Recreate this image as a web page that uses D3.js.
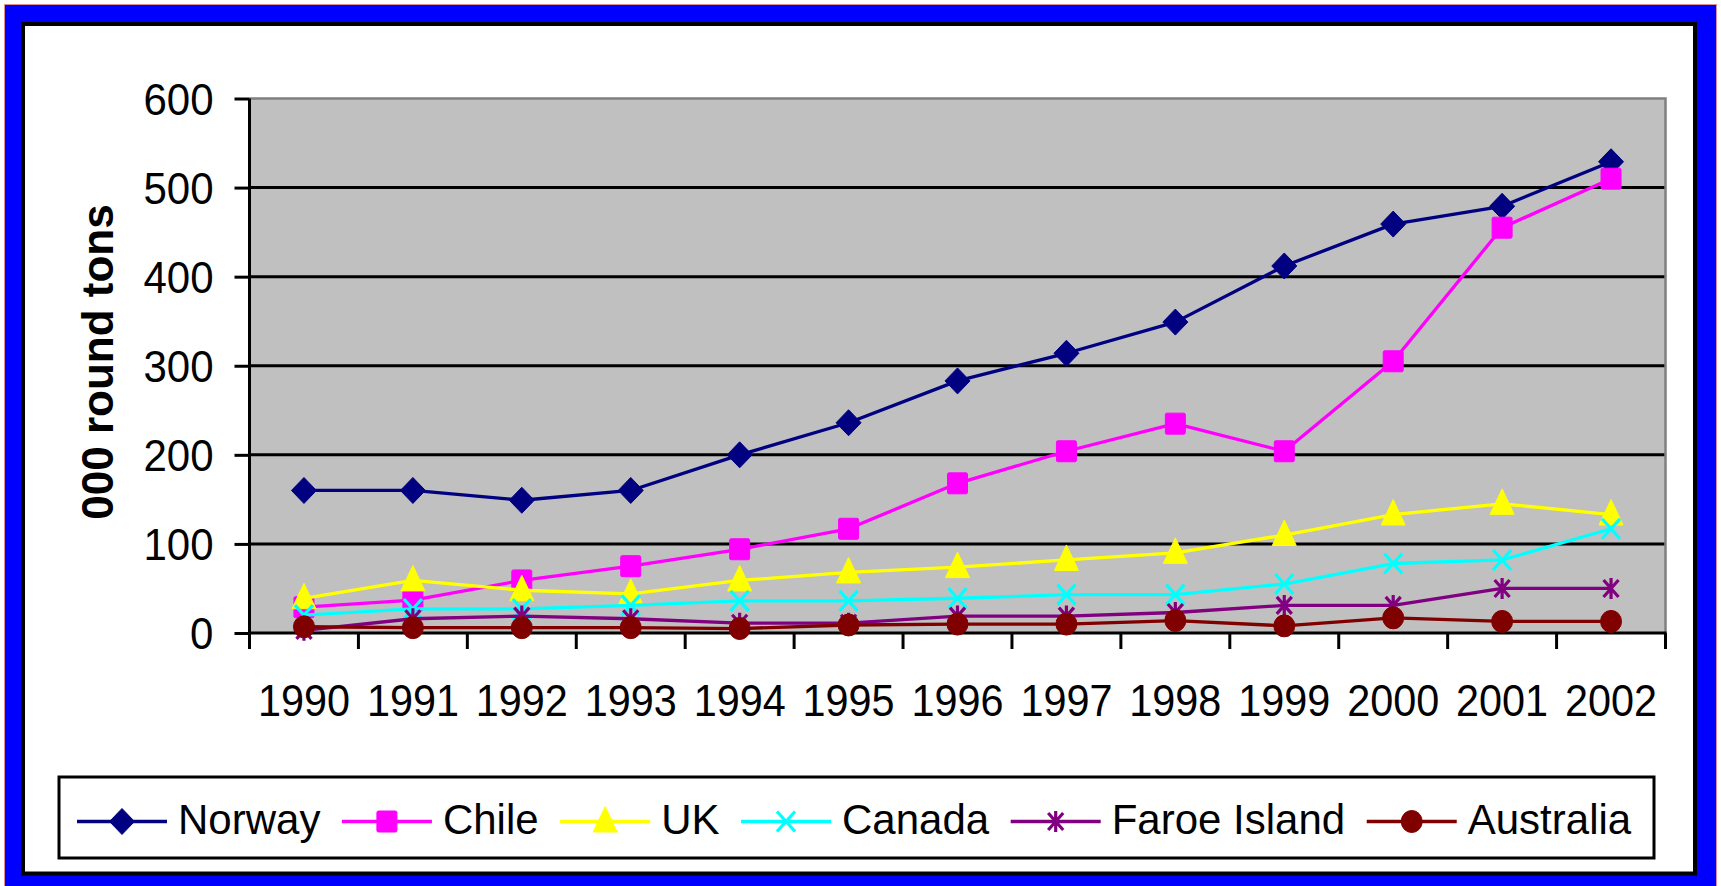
<!DOCTYPE html>
<html>
<head>
<meta charset="utf-8">
<script src="https://cdn.jsdelivr.net/npm/d3@7"></script>
<style>
  html, body { margin: 0; padding: 0; background: #ffffff; }
  svg { display: block; }
  text { font-family: "Liberation Sans", Arial, sans-serif; fill: #000; }
</style>
</head>
<body>
<svg id="chart" width="1721" height="886"></svg>
<script>
// ---- data ----
const years = ["1990","1991","1992","1993","1994","1995","1996","1997","1998","1999","2000","2001","2002"];
const yTicks = [0, 100, 200, 300, 400, 500, 600];
const seriesNames = ["Norway", "Chile", "UK", "Canada", "Faroe Island", "Australia"];
const norway    = [160, 160, 149, 160, 200, 236, 283, 314, 349, 412, 459, 479, 529];
const chile     = [29, 37, 59, 75, 94, 117, 168, 204, 235, 204, 305, 455, 510];
const uk        = [39, 59, 48, 44, 59, 68, 74, 82, 90, 110, 133, 145, 133];
const canada    = [20, 27, 27, 31, 36, 36, 39, 43, 43, 55, 78, 82, 117];
const faroe     = [3, 16, 19, 16, 11, 11, 19, 19, 23, 31, 31, 50, 50];
const australia = [7, 6, 6, 6, 5, 9, 10, 10, 14, 8, 17, 13, 13];
const yTitle = "000 round tons";

const seriesValues = [norway, chile, uk, canada, faroe, australia];
const colors = ["#000080", "#FF00FF", "#FFFF00", "#00FFFF", "#800080", "#800000"];
const markers = ["diamond", "square", "triangle", "x", "star", "circle"];

(function () {
const svg = d3.select("#chart");
const FONT = '"Liberation Sans", Arial, sans-serif';
function narrow(sel, k) {
  sel.each(function () {
    const w = this.getComputedTextLength();
    d3.select(this).attr("textLength", w * k).attr("lengthAdjust", "spacingAndGlyphs");
  });
}

// ---- frame ----
svg.append("rect").attr("x", 4.5).attr("y", 4.5).attr("width", 1712).attr("height", 900)
  .attr("fill", "#0000FF").attr("stroke", "#E09090").attr("stroke-width", 1);
svg.append("rect").attr("x", 23).attr("y", 24).attr("width", 1672).attr("height", 849.5)
  .attr("fill", "#ffffff").attr("stroke", "#000000").attr("stroke-width", 4);

// ---- scales ----
const pLeft = 249.5, pRight = 1665.5, pTop = 98.5, pBottom = 633;
const x = d3.scaleBand().domain(years).range([pLeft, pRight]);
const y = d3.scaleLinear().domain([0, 600]).range([pBottom, pTop]);
const cx = d => x(d) + x.bandwidth() / 2;

// plot area
svg.append("rect").attr("x", pLeft).attr("y", pTop).attr("width", pRight - pLeft).attr("height", pBottom - pTop)
  .attr("fill", "#C0C0C0");

// gridlines
svg.append("g").selectAll("line").data(yTicks.filter(v => v > 0 && v < 600)).join("line")
  .attr("x1", pLeft).attr("x2", pRight).attr("y1", d => y(d)).attr("y2", d => y(d))
  .attr("stroke", "#000").attr("stroke-width", 3);

// top & right border (gray)
svg.append("path")
  .attr("d", `M${pLeft},${y(600)}H${pRight}V${pBottom}`)
  .attr("fill", "none").attr("stroke", "#808080").attr("stroke-width", 2.5);

// y axis
const yAxis = d3.axisLeft(y).tickValues(yTicks).tickSize(15).tickPadding(21).tickFormat(d3.format("d"));
const gy = svg.append("g").attr("transform", `translate(${pLeft},0)`).call(yAxis);
gy.select(".domain").remove();
gy.selectAll(".tick line").attr("stroke", "#000").attr("stroke-width", 3);
gy.selectAll(".tick text").attr("font-size", 44).attr("dy", "0.355em")
  .style("font-family", FONT).attr("fill", "#000");
narrow(gy.selectAll(".tick text"), 0.955);

// x axis labels
const xAxis = d3.axisBottom(x).tickSize(0);
const gx = svg.append("g").attr("transform", `translate(0,${pBottom})`).call(xAxis);
gx.select(".domain").remove();
gx.selectAll(".tick text").attr("font-size", 44).attr("y", 83).attr("dy", 0)
  .style("font-family", FONT).attr("fill", "#000");
narrow(gx.selectAll(".tick text"), 0.94);

// x ticks at band edges
const edges = years.map(d => x(d)).concat([x.range()[1]]);
svg.append("g").selectAll("line").data(edges).join("line")
  .attr("x1", d => d).attr("x2", d => d).attr("y1", pBottom).attr("y2", pBottom + 16)
  .attr("stroke", "#000").attr("stroke-width", 3);

// axis lines
svg.append("line").attr("x1", pLeft).attr("x2", pLeft).attr("y1", pTop).attr("y2", pBottom + 1.5)
  .attr("stroke", "#000").attr("stroke-width", 3);
svg.append("line").attr("x1", pLeft - 1.5).attr("x2", pRight + 1).attr("y1", pBottom).attr("y2", pBottom)
  .attr("stroke", "#000").attr("stroke-width", 3);

// y title
svg.append("text")
  .attr("transform", `translate(113,362) rotate(-90)`)
  .attr("text-anchor", "middle").attr("font-size", 44).attr("font-weight", "bold")
  .text(yTitle);

// ---- markers ----
function drawMarker(g, type, px, py, color) {
  if (type === "diamond") {
    g.append("path").attr("d", `M${px},${py - 13}L${px + 12.5},${py}L${px},${py + 13}L${px - 12.5},${py}Z`)
      .attr("fill", color).attr("stroke", color).attr("stroke-width", 1);
  } else if (type === "square") {
    g.append("rect").attr("x", px - 10).attr("y", py - 10.5).attr("width", 20).attr("height", 21)
      .attr("rx", 1.5).attr("fill", color).attr("stroke", color).attr("stroke-width", 1);
  } else if (type === "triangle") {
    g.append("path").attr("d", `M${px},${py - 15}L${px + 12},${py + 10.5}L${px - 12},${py + 10.5}Z`)
      .attr("fill", color).attr("stroke", color).attr("stroke-width", 1).attr("stroke-linejoin", "round");
  } else if (type === "x") {
    g.append("path").attr("d", `M${px - 9},${py - 10}L${px + 9},${py + 10}M${px - 9},${py + 10}L${px + 9},${py - 10}`)
      .attr("stroke", color).attr("stroke-width", 3.2).attr("fill", "none");
  } else if (type === "star") {
    g.append("path").attr("d", `M${px - 7.5},${py - 8.5}L${px + 7.5},${py + 8.5}M${px - 7.5},${py + 8.5}L${px + 7.5},${py - 8.5}M${px},${py - 10.5}L${px},${py + 10.5}`)
      .attr("stroke", color).attr("stroke-width", 3.2).attr("fill", "none");
  } else if (type === "circle") {
    g.append("ellipse").attr("cx", px).attr("cy", py).attr("rx", 10.5).attr("ry", 11)
      .attr("fill", color).attr("stroke", color).attr("stroke-width", 1);
  }
}

// ---- series ----
const line = d3.line().x((d, i) => cx(years[i])).y(d => y(d));
seriesValues.forEach((vals, si) => {
  const g = svg.append("g");
  g.append("path").datum(vals).attr("d", line)
    .attr("fill", "none").attr("stroke", colors[si]).attr("stroke-width", 3.3).attr("stroke-linejoin", "round");
  vals.forEach((v, i) => drawMarker(g, markers[si], cx(years[i]), y(v), colors[si]));
});

// ---- legend ----
const legBox = { x: 59, y: 777, w: 1595, h: 81 };
svg.append("rect").attr("x", legBox.x).attr("y", legBox.y).attr("width", legBox.w).attr("height", legBox.h)
  .attr("fill", "#fff").attr("stroke", "#000").attr("stroke-width", 3);
let lx = 77;
const ly = 821.5;
seriesNames.forEach((name, si) => {
  const g = svg.append("g");
  g.append("line").attr("x1", lx).attr("x2", lx + 90).attr("y1", ly).attr("y2", ly)
    .attr("stroke", colors[si]).attr("stroke-width", 3.3);
  drawMarker(g, markers[si], lx + 45, ly, colors[si]);
  const t = g.append("text").attr("x", lx + 101).attr("y", 833.5).attr("font-size", 43).text(name);
  const w = t.node().getComputedTextLength() * 0.977;
  narrow(t, 0.977);
  lx = lx + 101 + w + 21.5;
});
})();
</script>
</body>
</html>
